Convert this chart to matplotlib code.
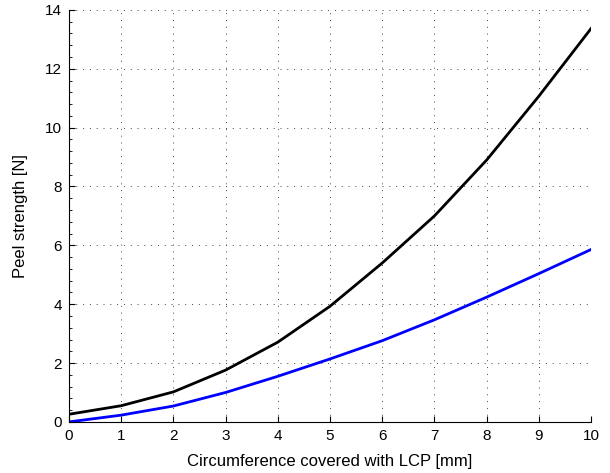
import matplotlib
matplotlib.use('Agg')
import matplotlib.pyplot as plt
from matplotlib.ticker import AutoMinorLocator

# Dados
cobertura_mm = [0, 1, 2, 3, 4, 5, 6, 7, 8, 9, 10]
forca_preta = [0.26, 0.55, 1.02, 1.76, 2.71, 3.93, 5.40, 7.00, 8.90, 11.07, 13.37]
forca_azul = [0.0, 0.23, 0.54, 1.00, 1.55, 2.14, 2.76, 3.47, 4.24, 5.04, 5.86]

plt.rcParams['font.family'] = ['Liberation Sans', 'DejaVu Sans']

fig = plt.figure(figsize=(6.1, 4.73), dpi=100)
ax = fig.add_axes([0.113, 0.108, 0.856, 0.871])

ax.plot(cobertura_mm, forca_preta, color='black', linewidth=2.0)
ax.plot(cobertura_mm, forca_azul, color='blue', linewidth=2.0)

ax.set_xlim(0, 10)
ax.set_ylim(0, 14)
ax.set_xticks(range(0, 11))
ax.set_yticks(range(0, 15, 2))
ax.yaxis.set_minor_locator(AutoMinorLocator(5))

ax.grid(True, which='major', color='#444444', linestyle=(0, (1, 6)), linewidth=0.7)
ax.spines['top'].set_visible(False)
ax.spines['right'].set_visible(False)
ax.tick_params(direction='in', length=4, width=0.8, labelsize=11, pad=5)
ax.tick_params(which='minor', direction='in', length=2, width=0.6)

ax.set_xlabel('Circumference covered with LCP [mm]', fontsize=12, labelpad=8)
ax.set_ylabel('Peel strength [N]', fontsize=12, labelpad=12)

fig.savefig('out.png', dpi=100)
